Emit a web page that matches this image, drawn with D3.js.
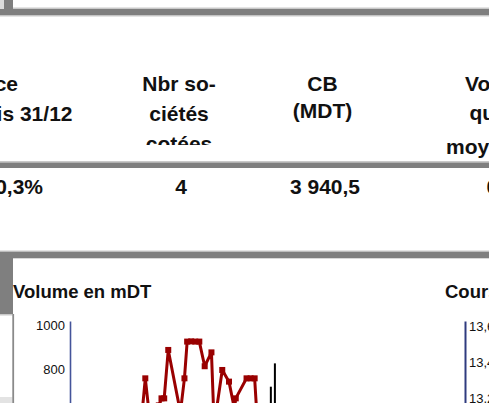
<!DOCTYPE html>
<html>
<head>
<meta charset="utf-8">
<script src="https://cdn.jsdelivr.net/npm/d3@7"></script>
<style>
body { margin: 0; background: #fff; }
svg { display: block; font-family: "Liberation Sans", Arial, sans-serif; }
</style>
</head>
<body>
<svg id="page" width="489" height="403"></svg>
<script>
// tableau (texte visible dans le cadrage)
const colPerf = ['ce', 'is 31/12']
const colNbr = ['Nbr so-', 'ciétés', 'cotées']
const colCB = ['CB', '(MDT)']
const colVol = ['Vo', 'qu', 'moy']
const valPerf = '0,3%'
const valNbr = 4
const valCB = 3940.5
const valVol = '0'

// graphique volume (mDT)
const jours = [-2, 0, 3, 5, 7, 10, 12, 14, 17, 26, 29, 31, 34, 37, 40, 44, 49, 51, 57, 62, 66, 67, 75, 78, 81, 84]
const volumes = [621, 753, 585, 560, 600, 630, 662, 662, 882, 599, 753, 920, 921, 920, 920, 808, 871, 537, 791, 738, 615, 662, 753, 753, 753, 450]
const barresJours = [93, 96]
const barresVal = [715, 821]
const ticksVolume = [800, 1000]

// graphique cours
const ticksCours = [13.2, 13.4, 13.6]

const fr = d3.formatLocale({decimal: ',', thousands: ' ', grouping: [3], currency: ['', ' DT']})
const dark = '#7f7f7f'
const light = '#c9c9c9'

let svg = d3.select('#page')
svg.append('rect').attr('width', 489).attr('height', 403).attr('fill', '#fff')

// cadres gris
let cadre = svg.append('g')
cadre.append('rect').attr('x', 0).attr('y', 0).attr('width', 4).attr('height', 9).attr('fill', '#dcdcdc')
cadre.append('rect').attr('x', 4).attr('y', 0).attr('width', 9).attr('height', 9).attr('fill', dark)
cadre.append('rect').attr('x', 13).attr('y', 7.5).attr('width', 476).attr('height', 1.5).attr('fill', light)
cadre.append('rect').attr('x', 0).attr('y', 9).attr('width', 489).attr('height', 6.5).attr('fill', dark)
cadre.append('rect').attr('x', 0).attr('y', 15.5).attr('width', 489).attr('height', 1).attr('fill', light)

cadre.append('rect').attr('x', 0).attr('y', 161).attr('width', 489).attr('height', 1.5).attr('fill', light)
cadre.append('rect').attr('x', 0).attr('y', 162.5).attr('width', 489).attr('height', 5.5).attr('fill', dark)

cadre.append('rect').attr('x', 0).attr('y', 250.5).attr('width', 489).attr('height', 1.2).attr('fill', light)
cadre.append('rect').attr('x', 0).attr('y', 251.7).attr('width', 489).attr('height', 6.6).attr('fill', dark)
cadre.append('rect').attr('x', 0).attr('y', 258).attr('width', 13).attr('height', 56).attr('fill', dark)
cadre.append('rect').attr('x', 0).attr('y', 314).attr('width', 12.5).attr('height', 1.5).attr('fill', light)
cadre.append('rect').attr('x', 0).attr('y', 397).attr('width', 12.5).attr('height', 6).attr('fill', '#e3e3e3')
cadre.append('rect').attr('x', 12.3).attr('y', 314).attr('width', 1.8).attr('height', 89).attr('fill', '#8a8a8a')

// tableau
svg.append('clipPath').attr('id', 'clipNbr')
    .append('rect').attr('x', 100).attr('y', 60).attr('width', 160).attr('height', 85)

let tete = svg.append('g')
    .attr('font-weight', 'bold')
    .attr('font-size', 21)
    .attr('fill', '#111')

let base = [91, 121, 151]
tete.selectAll('.perf').data(colPerf).enter().append('text')
    .attr('x', (d, i) => i === 0 ? 18 : 72.5)
    .attr('y', (d, i) => base[i])
    .attr('text-anchor', 'end')
    .text(d => d)

tete.append('g').attr('clip-path', 'url(#clipNbr)')
    .selectAll('text').data(colNbr).enter().append('text')
    .attr('x', 179)
    .attr('y', (d, i) => base[i])
    .attr('text-anchor', 'middle')
    .text(d => d)

tete.selectAll('.cb').data(colCB).enter().append('text')
    .attr('x', 322.5)
    .attr('y', (d, i) => [91, 118][i])
    .attr('text-anchor', 'middle')
    .text(d => d)

tete.selectAll('.vol').data(colVol).enter().append('text')
    .attr('x', (d, i) => [465, 469.5, 446][i])
    .attr('y', (d, i) => [91, 120, 154][i])
    .text(d => d)

tete.append('text').attr('x', 43).attr('y', 193.5).attr('text-anchor', 'end').text(valPerf)
tete.append('text').attr('x', 181).attr('y', 193.5).attr('text-anchor', 'middle').text(valNbr)
tete.append('text').attr('x', 325).attr('y', 193.5).attr('text-anchor', 'middle').text(fr.format(',.1f')(valCB))
tete.append('text').attr('x', 486.5).attr('y', 193.5).text(valVol)

// graphique volume
let g1 = svg.append('g')
g1.append('text')
    .attr('x', 13).attr('y', 297.5)
    .attr('font-weight', 'bold').attr('font-size', 18.5).attr('fill', '#111')
    .text('Volume en mDT')

let x = d3.scaleLinear().domain([0, 100]).range([145.3, 280.3])
let y = d3.scaleLinear().domain([0, 1013.6]).range([544, 321])

let axeV = g1.append('g')
    .attr('transform', 'translate(70,0)')
    .call(d3.axisLeft(y).tickValues(ticksVolume).tickSize(0).tickPadding(5).tickFormat(d3.format('d')))
axeV.select('.domain').attr('stroke', '#44549a').attr('stroke-width', 1.6)
axeV.selectAll('text').attr('font-size', 13).attr('fill', '#111').attr('font-family', '"Liberation Sans", Arial, sans-serif').attr('dy', '0.4em')

svg.append('clipPath').attr('id', 'clipPlot')
    .append('rect').attr('x', 71).attr('y', 300).attr('width', 360).attr('height', 103)

let plot = g1.append('g').attr('clip-path', 'url(#clipPlot)')

plot.selectAll('.barre').data(barresJours).enter().append('rect')
    .attr('x', d => x(d) - 1)
    .attr('y', (d, i) => y(barresVal[i]))
    .attr('width', 2)
    .attr('height', (d, i) => y(0) - y(barresVal[i]))
    .attr('fill', '#000')

let ligne = d3.line()
    .x(d => x(d))
    .y((d, i) => y(volumes[i]))

plot.append('path')
    .datum(jours)
    .attr('d', ligne)
    .attr('fill', 'none')
    .attr('stroke', '#990000')
    .attr('stroke-width', 3)
    .attr('stroke-linejoin', 'round')

plot.selectAll('.pt').data(jours).enter().append('rect')
    .attr('x', d => x(d) - 3)
    .attr('y', (d, i) => y(volumes[i]) - 3)
    .attr('width', 6)
    .attr('height', 6)
    .attr('fill', '#990000')

// graphique cours
let g2 = svg.append('g')
g2.append('text')
    .attr('x', 445).attr('y', 298)
    .attr('font-weight', 'bold').attr('font-size', 18.5).attr('fill', '#111')
    .text('Cours')

let yc = d3.scaleLinear().domain([13.0, 13.622]).range([433, 321])
let axeC = g2.append('g')
    .attr('transform', 'translate(465,0)')
    .call(d3.axisRight(yc).tickValues(ticksCours).tickSize(0).tickPadding(4).tickFormat(fr.format('.1f')))
axeC.select('.domain').attr('stroke', '#2f3b7e').attr('stroke-width', 2)
axeC.selectAll('text').attr('font-size', 13).attr('fill', '#111').attr('font-family', '"Liberation Sans", Arial, sans-serif').attr('dy', '0.4em')
</script>
</body>
</html>
